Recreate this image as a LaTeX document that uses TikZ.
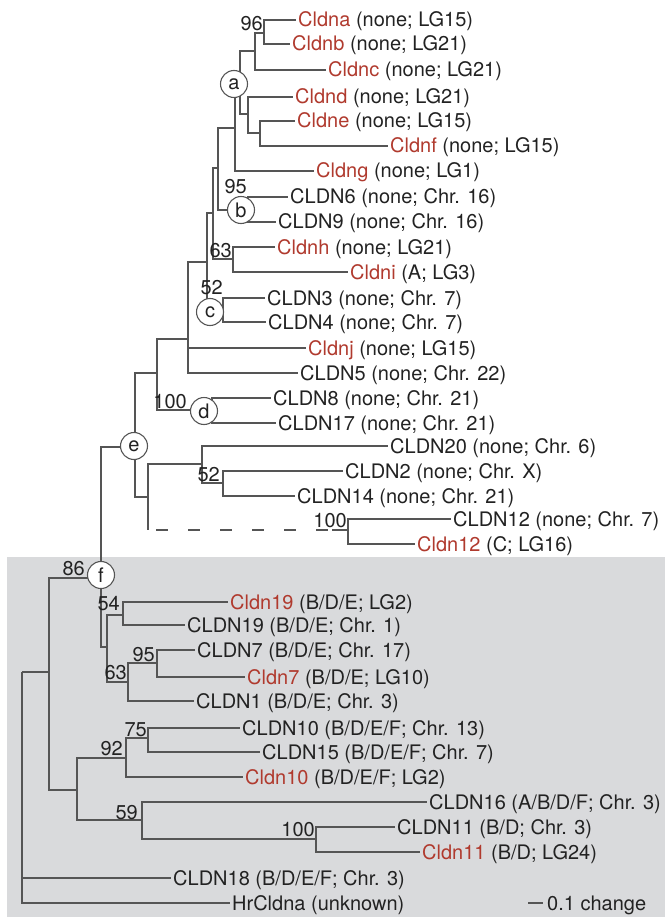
\documentclass[tikz,border=0pt]{standalone}
\usepackage{fontspec}
\setmainfont{TeX Gyre Heros}
\definecolor{ln}{HTML}{555555}
\definecolor{rd}{HTML}{B03A2E}
\definecolor{tx}{HTML}{222222}
\definecolor{bg}{HTML}{D9DADC}
\newcommand\rn[1]{\textcolor{rd}{#1}}
\begin{document}
\begin{tikzpicture}[x=1pt,y=-1pt,
  br/.style={draw=ln,line width=1.1pt},
  dsh/.style={draw=ln,line width=1.1pt,dash pattern=on 12pt off 20pt,dash phase=-8pt},
  leaf/.style={anchor=west,inner xsep=2pt,inner ysep=0pt,text height=14pt,text depth=0pt,text=tx,font=\fontsize{20}{24}\selectfont},
  bs/.style={anchor=south east,inner sep=0pt,text=tx,font=\fontsize{20}{24}\selectfont},
  lab/.style={circle,draw=ln,fill=white,line width=1.1pt,minimum size=27pt,inner sep=0pt,text=tx,font=\fontsize{20}{24}\selectfont}
]
\useasboundingbox (0,0) rectangle (665,917);
\fill[bg] (7,557) rectangle (665,917);

% leaves
\node[leaf] (Cldna) at (296,20) {\rn{Cldna} (none; LG15)};
\node[leaf] (Cldnb) at (290,44) {\rn{Cldnb} (none; LG21)};
\node[leaf] (Cldnc) at (326,70) {\rn{Cldnc} (none; LG21)};
\node[leaf] (Cldnd) at (293,97) {\rn{Cldnd} (none; LG21)};
\node[leaf] (Cldne) at (295,121) {\rn{Cldne} (none; LG15)};
\node[leaf] (Cldnf) at (388,146) {\rn{Cldnf} (none; LG15)};
\node[leaf] (Cldng) at (314,171) {\rn{Cldng} (none; LG1)};
\node[leaf] (CLDN6) at (288,197) {CLDN6 (none; Chr. 16)};
\node[leaf] (CLDN9) at (276,222) {CLDN9 (none; Chr. 16)};
\node[leaf] (Cldnh) at (275,247) {\rn{Cldnh} (none; LG21)};
\node[leaf] (Cldni) at (348,272) {\rn{Cldni} (A; LG3)};
\node[leaf] (CLDN3) at (265,298) {CLDN3 (none; Chr. 7)};
\node[leaf] (CLDN4) at (266,322) {CLDN4 (none; Chr. 7)};
\node[leaf] (Cldnj) at (306,348) {\rn{Cldnj} (none; LG15)};
\node[leaf] (CLDN5) at (298,373) {CLDN5 (none; Chr. 22)};
\node[leaf] (CLDN8) at (271,398) {CLDN8 (none; Chr. 21)};
\node[leaf] (CLDN17) at (276,423) {CLDN17 (none; Chr. 21)};
\node[leaf] (CLDN20) at (388,446) {CLDN20 (none; Chr. 6)};
\node[leaf] (CLDN2) at (343,471) {CLDN2 (none; Chr. X)};
\node[leaf] (CLDN14) at (295,496) {CLDN14 (none; Chr. 21)};
\node[leaf] (CLDN12) at (451,519) {CLDN12 (none; Chr. 7)};
\node[leaf] (Cldn12) at (415,544) {\rn{Cldn12} (C; LG16)};
\node[leaf] (Cldn19) at (228,602) {\rn{Cldn19} (B/D/E; LG2)};
\node[leaf] (CLDN19) at (185,625) {CLDN19 (B/D/E; Chr. 1)};
\node[leaf] (CLDN7) at (195,650) {CLDN7 (B/D/E; Chr. 17)};
\node[leaf] (Cldn7) at (245,677) {\rn{Cldn7} (B/D/E; LG10)};
\node[leaf] (CLDN1) at (194,701) {CLDN1 (B/D/E; Chr. 3)};
\node[leaf] (CLDN10) at (240,728) {CLDN10 (B/D/E/F; Chr. 13)};
\node[leaf] (CLDN15) at (260,752) {CLDN15 (B/D/E/F; Chr. 7)};
\node[leaf] (Cldn10) at (243,777) {\rn{Cldn10} (B/D/E/F; LG2)};
\node[leaf] (CLDN16) at (427,802) {CLDN16 (A/B/D/F; Chr. 3)};
\node[leaf] (CLDN11) at (395,827) {CLDN11 (B/D; Chr. 3)};
\node[leaf] (Cldn11) at (420,852) {\rn{Cldn11} (B/D; LG24)};
\node[leaf] (CLDN18) at (171,878) {CLDN18 (B/D/E/F; Chr. 3)};
\node[leaf] (HrCldna) at (230,903) {HrCldna (unknown)};

% internal nodes
\coordinate (n96) at (264,33);
\coordinate (nABC) at (255,51);
\coordinate (nEF) at (260,133);
\coordinate (nDEF) at (248,114);
\coordinate (nX) at (240,82);
\coordinate (nA) at (235,128);
\coordinate (nB) at (248,210);
\coordinate (nAB) at (218,168);
\coordinate (n63) at (233,259);
\coordinate (nAB63) at (213,213);
\coordinate (nC) at (223,311);
\coordinate (n52c) at (207,262);
\coordinate (n188) at (188,339);
\coordinate (nD) at (212,410);
\coordinate (n157) at (157,373);
\coordinate (n52) at (223,483);
\coordinate (n202) at (202,464);
\coordinate (n100a) at (348,530);
\coordinate (n148) at (148,497);
\coordinate (dashL) at (148,530);
\coordinate (dashR) at (332,530);
\coordinate (nE) at (135,447);
\coordinate (n123) at (123,615);
\coordinate (n157b) at (157,663);
\coordinate (n128) at (128,682);
\coordinate (n107) at (107,647);
\coordinate (nF) at (101,578);
\coordinate (n148b) at (148,738);
\coordinate (n126) at (126,758);
\coordinate (n316) at (316,839);
\coordinate (n142) at (142,820);
\coordinate (n77) at (77,790);
\coordinate (n49) at (49,672);
\coordinate (root) at (22,672);

% branches
\draw[br] (n96) |- (Cldna); \draw[br] (n96) |- (Cldnb);
\draw[br] (nABC) |- (n96); \draw[br] (nABC) |- (Cldnc);
\draw[br] (nEF) |- (Cldne); \draw[br] (nEF) |- (Cldnf);
\draw[br] (nDEF) |- (Cldnd); \draw[br] (nDEF) |- (nEF);
\draw[br] (nX) |- (nABC); \draw[br] (nX) |- (nDEF);
\draw[br] (nA) |- (nX); \draw[br] (nA) |- (Cldng);
\draw[br] (nB) |- (CLDN6); \draw[br] (nB) |- (CLDN9);
\draw[br] (nAB) |- (nA); \draw[br] (nAB) |- (nB);
\draw[br] (n63) |- (Cldnh); \draw[br] (n63) |- (Cldni);
\draw[br] (nAB63) |- (nAB); \draw[br] (nAB63) |- (n63);
\draw[br] (nC) |- (CLDN3); \draw[br] (nC) |- (CLDN4);
\draw[br] (n52c) |- (nAB63); \draw[br] (n52c) |- (nC);
\draw[br] (n188) |- (n52c); \draw[br] (n188) |- (Cldnj); \draw[br] (n188) |- (CLDN5);
\draw[br] (nD) |- (CLDN8); \draw[br] (nD) |- (CLDN17);
\draw[br] (n157) |- (n188); \draw[br] (n157) |- (nD);
\draw[br] (n52) |- (CLDN2); \draw[br] (n52) |- (CLDN14);
\draw[br] (n202) |- (CLDN20); \draw[br] (n202) |- (n52);
\draw[br] (n100a) |- (CLDN12); \draw[br] (n100a) |- (Cldn12);
\draw[br] (n148) |- (n202); \draw[br] (n148) -- (dashL);
\draw[dsh] (dashL) -- (dashR);
\draw[br] (dashR) -- (n100a);
\draw[br] (nE) |- (n157); \draw[br] (nE) |- (n148);
\draw[br] (n123) |- (Cldn19); \draw[br] (n123) |- (CLDN19);
\draw[br] (n157b) |- (CLDN7); \draw[br] (n157b) |- (Cldn7);
\draw[br] (n128) |- (n157b); \draw[br] (n128) |- (CLDN1);
\draw[br] (n107) |- (n123); \draw[br] (n107) |- (n128);
\draw[br] (nF) |- (nE); \draw[br] (nF) |- (n107);
\draw[br] (n148b) |- (CLDN10); \draw[br] (n148b) |- (CLDN15);
\draw[br] (n126) |- (n148b); \draw[br] (n126) |- (Cldn10);
\draw[br] (n316) |- (CLDN11); \draw[br] (n316) |- (Cldn11);
\draw[br] (n142) |- (CLDN16); \draw[br] (n142) |- (n316);
\draw[br] (n77) |- (n126); \draw[br] (n77) |- (n142);
\draw[br] (n49) |- (nF); \draw[br] (n49) |- (n77);
\draw[br] (root) -- (n49); \draw[br] (root) |- (CLDN18); \draw[br] (root) |- (HrCldna);

% circled labels
\node[lab] (ca) at (234,84) {a};
\node[lab] (cb) at (241,210) {b};
\node[lab] (cc) at (210,312) {c};
\node[lab] (cd) at (204,411) {d};
\node[lab] (ce) at (134,446) {e};
\node[lab] (cf) at (101,575) {f};

% bootstrap values
\node[bs] (b96) at (263,31) {96};
\node[bs] (b95a) at (247,194) {95};
\node[bs] (b63a) at (232,258) {63};
\node[bs] (b52a) at (223,295) {52};
\node[bs] (b100a) at (187,409) {100};
\node[bs] (b52b) at (220,482) {52};
\node[bs] (b100b) at (347,528) {100};
\node[bs] (b86) at (85,576) {86};
\node[bs] (b54) at (120,611) {54};
\node[bs] (b95b) at (155,662) {95};
\node[bs] (b63b) at (127,680) {63};
\node[bs] (b75) at (147,737) {75};
\node[bs] (b92) at (123,756) {92};
\node[bs] (b59) at (138,820) {59};
\node[bs] (b100c) at (315,837) {100};

% scale bar
\coordinate (sb1) at (528,903);
\coordinate (sb2) at (543,903);
\draw[br] (sb1) -- (sb2);
\node[leaf] (sbt) at (545,903) {0.1 change};
\end{tikzpicture}
\end{document}
